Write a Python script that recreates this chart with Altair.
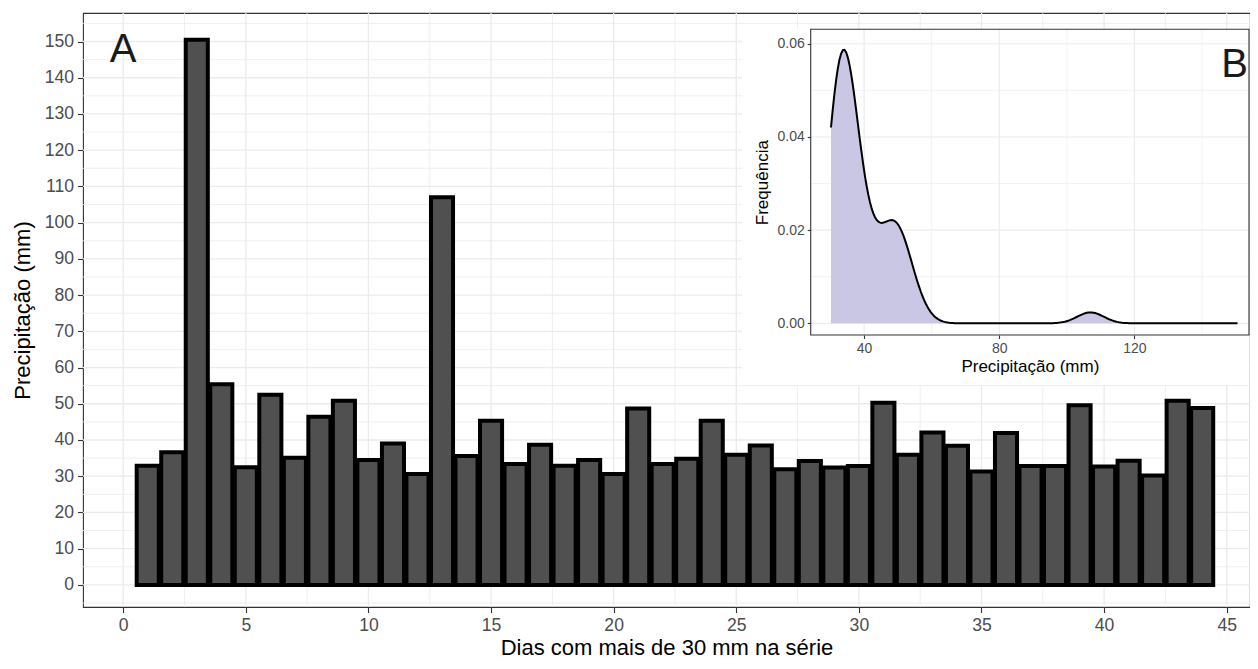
import altair as alt
import pandas as pd
import numpy as np

# ---------------- data ----------------
days = list(range(1, 45))
precip = [32.9, 36.6, 150.5, 55.4, 32.5, 52.5, 35.1, 46.4, 50.8, 34.5,
          39.0, 30.6, 107.0, 35.6, 45.3, 33.4, 38.7, 32.9, 34.5, 30.6,
          48.7, 33.4, 34.8, 45.3, 35.9, 38.5, 31.9, 34.2, 32.4, 32.8,
          50.3, 35.9, 42.1, 38.4, 31.3, 41.9, 32.8, 32.8, 49.6, 32.7,
          34.3, 30.2, 50.8, 48.8]

x_ticks = [0, 5, 10, 15, 20, 25, 30, 35, 40, 45]
x_minor = [2.5, 7.5, 12.5, 17.5, 22.5, 27.5, 32.5, 37.5, 42.5]
y_ticks = [0, 10, 20, 30, 40, 50, 60, 70, 80, 90, 100, 110, 120, 130, 140, 150]
y_minor = [-5, 5, 15, 25, 35, 45, 55, 65, 75, 85, 95, 105, 115, 125, 135, 145, 155]

ix_ticks = [40, 80, 120]
ix_minor = [60, 100, 140]
iy_ticks = [0, 0.02, 0.04, 0.06]
iy_minor = [0.01, 0.03, 0.05]

# ---------------- layout ----------------
W, H = 1167, 594
FONT = "Liberation Sans"
MAIN_X_DOMAIN = [-1.64, 45.95]
MAIN_Y_DOMAIN = [-6.1, 157.87]
INSET_X_DOMAIN = [24.2, 153.9]
INSET_Y_DOMAIN = [-0.0025, 0.0631]
INSET_X_RANGE = [727.7, 1166.0]
INSET_Y_RANGE = [322.0, 16.3]

df = pd.DataFrame({"dia": days, "precip": precip})
one = pd.DataFrame({"k": [0]})

# the inset density in the reference shows no bump for the single extreme day,
# so the KDE uses the days below 140 mm, evaluated over the full observed range
dens_vals = np.array([v for v in precip if v < 140])
q1, q3 = np.percentile(dens_vals, [25, 75])
bw = 0.9 * min(dens_vals.std(ddof=1), (q3 - q1) / 1.34) * len(dens_vals) ** (-0.2)
extent = [float(min(precip)), float(max(precip))]

xs = alt.Scale(domain=MAIN_X_DOMAIN, nice=False, zero=False)
ys = alt.Scale(domain=MAIN_Y_DOMAIN, nice=False, zero=False)

axis_common = dict(grid=False, domain=False, tickColor="#333333", tickWidth=1.1,
                   labelColor="#4D4D4D", titleColor="black", titleFontWeight="normal",
                   labelFont=FONT, titleFont=FONT, labelFlush=False, labelOverlap=False)

main_x_axis = alt.Axis(values=x_ticks, title="Dias com mais de 30 mm na série", orient="bottom",
                       tickSize=5.5, labelFontSize=17.6, titleFontSize=22,
                       labelPadding=4, titlePadding=3, **axis_common)
main_y_axis = alt.Axis(values=y_ticks, title="Precipitação (mm)", orient="left",
                       tickSize=5.5, labelFontSize=17.6, titleFontSize=22,
                       labelPadding=4, titlePadding=10, **axis_common)

GRID = "#EBEBEB"

gx_major = alt.Chart(pd.DataFrame({"v": x_ticks})).mark_rule(color=GRID, strokeWidth=1.3).encode(
    x=alt.X("v:Q", scale=xs, axis=main_x_axis))
gx_minor = alt.Chart(pd.DataFrame({"v": x_minor})).mark_rule(color=GRID, strokeWidth=0.8).encode(
    x=alt.X("v:Q", scale=xs, axis=main_x_axis))
gy_major = alt.Chart(pd.DataFrame({"v": y_ticks})).mark_rule(color=GRID, strokeWidth=1.3).encode(
    y=alt.Y("v:Q", scale=ys, axis=main_y_axis))
gy_minor = alt.Chart(pd.DataFrame({"v": y_minor})).mark_rule(color=GRID, strokeWidth=0.8).encode(
    y=alt.Y("v:Q", scale=ys, axis=main_y_axis))

bars = alt.Chart(df).transform_calculate(
    x0="datum.dia - 0.45", x1="datum.dia + 0.45"
).mark_rect(fill="#505050", stroke="black", strokeWidth=4, strokeJoin="miter").encode(
    x=alt.X("x0:Q", scale=xs, axis=main_x_axis),
    x2="x1:Q",
    y=alt.Y("precip:Q", scale=ys, axis=main_y_axis),
    y2=alt.datum(0),
)

label_a = alt.Chart(one).mark_text(text="A", font=FONT, fontSize=40, color="#1A1A1A",
                                   align="center", baseline="alphabetic").encode(
    x=alt.X(datum=0, scale=xs, axis=main_x_axis),
    y=alt.Y(datum=144.3, scale=ys, axis=main_y_axis),
)

main = alt.layer(gx_major, gx_minor, gy_major, gy_minor, bars, label_a)

# ---------------- inset ----------------
ixs = alt.Scale(domain=INSET_X_DOMAIN, range=INSET_X_RANGE, nice=False, zero=False)
iys = alt.Scale(domain=INSET_Y_DOMAIN, range=INSET_Y_RANGE, nice=False, zero=False)

inset_x_axis = alt.Axis(values=ix_ticks, title="Precipitação (mm)", orient="bottom",
                        offset=-(H - INSET_Y_RANGE[0]), tickSize=3.5, labelFontSize=14,
                        titleFontSize=17, labelPadding=3, titlePadding=3, zindex=1,
                        **axis_common)
inset_y_axis = alt.Axis(values=iy_ticks, title="Frequência", orient="left", format=".2f",
                        offset=-INSET_X_RANGE[0], tickSize=3.5, labelFontSize=14,
                        titleFontSize=17, labelPadding=3, titlePadding=5, zindex=1,
                        **axis_common)

bg = alt.Chart(one).mark_rect(fill="white").encode(
    x=alt.value(659), x2=alt.value(1166), y=alt.value(16), y2=alt.value(372))


def ix(field=None, datum=None):
    if datum is not None:
        return alt.X(datum=datum, scale=ixs, axis=inset_x_axis)
    return alt.X(field, scale=ixs, axis=inset_x_axis)


def iy(field=None, datum=None):
    if datum is not None:
        return alt.Y(datum=datum, scale=iys, axis=inset_y_axis)
    return alt.Y(field, scale=iys, axis=inset_y_axis)


igx_major = alt.Chart(pd.DataFrame({"v": ix_ticks})).mark_rule(color=GRID, strokeWidth=1.1).encode(
    x=ix("v:Q"), y=iy(datum=INSET_Y_DOMAIN[0]), y2=alt.datum(INSET_Y_DOMAIN[1]))
igx_minor = alt.Chart(pd.DataFrame({"v": ix_minor})).mark_rule(color=GRID, strokeWidth=0.7).encode(
    x=ix("v:Q"), y=iy(datum=INSET_Y_DOMAIN[0]), y2=alt.datum(INSET_Y_DOMAIN[1]))
igy_major = alt.Chart(pd.DataFrame({"v": iy_ticks})).mark_rule(color=GRID, strokeWidth=1.1).encode(
    y=iy("v:Q"), x=ix(datum=INSET_X_DOMAIN[0]), x2=alt.datum(INSET_X_DOMAIN[1]))
igy_minor = alt.Chart(pd.DataFrame({"v": iy_minor})).mark_rule(color=GRID, strokeWidth=0.7).encode(
    y=iy("v:Q"), x=ix(datum=INSET_X_DOMAIN[0]), x2=alt.datum(INSET_X_DOMAIN[1]))

dens = alt.Chart(df).transform_filter("datum.precip < 140").transform_density(
    "precip", as_=["pv", "density"], bandwidth=float(bw), extent=extent, steps=240)
area = dens.mark_area(color="#C9C7E4", opacity=1).encode(
    x=ix("pv:Q"), y=iy("density:Q"), y2=alt.datum(0))
line = dens.mark_line(color="black", strokeWidth=2).encode(
    x=ix("pv:Q"), y=iy("density:Q"))

frame = alt.Chart(one).mark_rect(fillOpacity=0, stroke="#333333", strokeWidth=1.1).encode(
    x=ix(datum=INSET_X_DOMAIN[0]), x2=alt.datum(INSET_X_DOMAIN[1]),
    y=iy(datum=INSET_Y_DOMAIN[0]), y2=alt.datum(INSET_Y_DOMAIN[1]))

label_b = alt.Chart(one).mark_text(text="B", font=FONT, fontSize=40, color="#1A1A1A",
                                   align="center", baseline="alphabetic").encode(
    x=ix(datum=149.6), y=iy(datum=0.0529))

inset = alt.layer(bg, igx_major, igx_minor, igy_major, igy_minor, area, line, frame, label_b)

chart = alt.layer(main, inset).resolve_scale(
    x="independent", y="independent"
).resolve_axis(
    x="independent", y="independent"
).properties(
    width=W, height=H,
    padding={"left": 75, "top": 5, "right": 0, "bottom": 54},
    autosize=alt.AutoSizeParams(type="none"),
    background="white",
).configure_view(stroke="#333333", strokeWidth=1.1)

chart.save("out.html", embed_options={"renderer": "svg", "actions": False})
